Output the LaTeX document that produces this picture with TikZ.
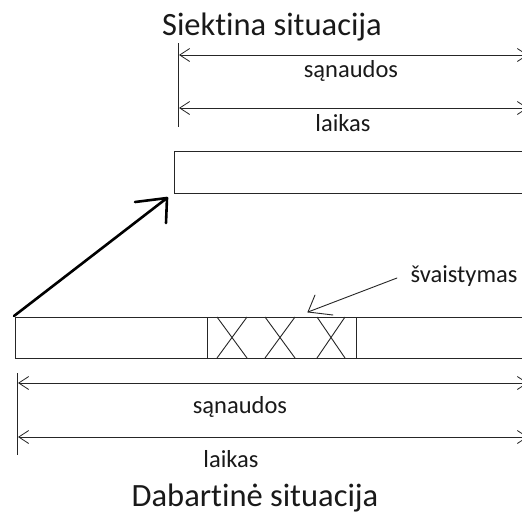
\documentclass[tikz,border=0pt]{standalone}
\usepackage{fontspec}
\setmainfont{Carlito}[RawFeature=-liga]
\usetikzlibrary{arrows.meta}
\begin{document}
\begin{tikzpicture}[x=1pt,y=-1pt,
  thin line/.style={draw=black!85, line width=0.9pt},
  dim/.style={thin line, {Straight Barb[length=10pt,width=13pt,line width=0.8pt]}-{Straight Barb[length=10pt,width=13pt,line width=0.8pt]}},
  titletext/.style={anchor=base, inner sep=0pt, font=\fontsize{32.5}{39}\selectfont, text=black!90},
  labeltext/.style={anchor=base, inner sep=0pt, font=\fontsize{24.5}{29}\selectfont, text=black!90},
  bigarrow/.style={draw=black, line width=2.6pt, line cap=round, line join=round},
  smallarrow/.style={draw=black!85, line width=0.9pt, line cap=round}]
\fill[white] (0,0) rectangle (522,515);
\clip (0,0) rectangle (522,515);
\useasboundingbox (0,0) rectangle (522,515);

% --- target situation (top) ---
\node[titletext] (ttop) at (272,35) {Siektina situacija};
\coordinate (tv1) at (178,43);
\coordinate (tv2) at (178,127);
\draw[thin line] (tv1) -- (tv2);
\coordinate (ta1l) at (179,55);
\coordinate (ta1r) at (528,55);
\coordinate (ta2l) at (179,108);
\coordinate (ta2r) at (528,108);
\draw[dim] (ta1l) -- (ta1r);
\draw[dim] (ta2l) -- (ta2r);
\node[labeltext] (tsan) at (351,77) {sąnaudos};
\node[labeltext] (tlai) at (343,131) {laikas};
\node[draw=black!85, line width=0.9pt, minimum width=380pt, minimum height=42pt, inner sep=0pt, anchor=north west] (trect) at (174,151) {};

% --- transition arrow ---
\coordinate (bs) at (14,316);
\coordinate (bt) at (167,198);
\coordinate (bb1) at (135,202);
\coordinate (bb2) at (166,223);
\draw[bigarrow] (bs) -- (bt);
\draw[bigarrow] (bb1) -- (bt) -- (bb2);

% --- current situation (bottom) ---
\node[draw=black!85, line width=0.9pt, minimum width=540pt, minimum height=41pt, inner sep=0pt, anchor=north west] (brect) at (15,317) {};
\node[draw=black!85, line width=0.9pt, minimum width=149pt, minimum height=41pt, inner sep=0pt, anchor=north west] (waste) at (207,317) {};
\foreach \a/\b [count=\i] in {217/247, 265/295, 317/345}{
  \coordinate (xa\i) at (\a,317);
  \coordinate (xb\i) at (\b,358);
  \coordinate (xc\i) at (\b,317);
  \coordinate (xd\i) at (\a,358);
  \draw[thin line] (xa\i) -- (xb\i);
  \draw[thin line] (xc\i) -- (xd\i);
}

\node[labeltext] (wlab) at (464,282) {švaistymas};
\coordinate (ws) at (397,278);
\coordinate (wt) at (308,312);
\coordinate (wb1) at (315,295);
\coordinate (wb2) at (333,315);
\draw[smallarrow] (ws) -- (wt);
\draw[smallarrow] (wb1) -- (wt) -- (wb2);

\coordinate (bv1) at (17,373);
\coordinate (bv2) at (17,455);
\draw[thin line] (bv1) -- (bv2);
\coordinate (ba1l) at (18,383);
\coordinate (ba1r) at (528,383);
\coordinate (ba2l) at (18,437);
\coordinate (ba2r) at (528,437);
\draw[dim] (ba1l) -- (ba1r);
\draw[dim] (ba2l) -- (ba2r);
\node[labeltext] (bsan) at (240,413) {sąnaudos};
\node[labeltext] (blai) at (231,467) {laikas};
\node[titletext] (tbot) at (255,506) {Dabartinė situacija};
\end{tikzpicture}
\end{document}
